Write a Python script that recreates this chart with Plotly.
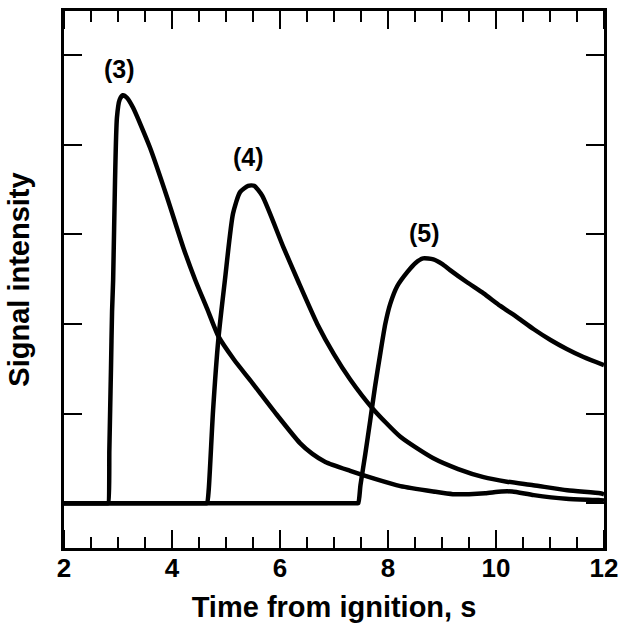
import plotly.graph_objects as go

# Curve (3)
t3 = [2.0, 2.80, 2.82, 2.84, 2.87, 2.89, 2.91, 2.945, 2.98, 3.03, 3.09, 3.17, 3.28, 3.59, 3.91,
      4.21, 4.43, 4.65, 4.86, 5.15, 5.45, 5.91, 6.37, 6.6, 6.84, 7.30, 7.76, 8.23, 8.84, 9.2,
      9.5, 9.8, 10.1, 10.3, 10.7, 11.3, 11.9, 12.0]
v3 = [0, 0, 0, 0.6, 1.5, 2.14, 2.49, 3.6, 4.3, 4.5, 4.55, 4.52, 4.41, 3.97, 3.41,
      2.85, 2.49, 2.17, 1.86, 1.60, 1.37, 1.01, 0.67, 0.55, 0.46, 0.36, 0.27, 0.19, 0.13, 0.10,
      0.10, 0.11, 0.13, 0.13, 0.09, 0.05, 0.035, 0.03]

# Curve (4)
t4 = [2.0, 4.62, 4.65, 4.68, 4.76, 4.86, 4.98, 5.13, 5.26, 5.41, 5.52, 5.67, 6.06, 6.34, 6.69,
      7.0, 7.30, 7.71, 8.23, 8.84, 9.3, 9.77, 10.2, 10.69, 11.32, 11.93, 12.0]
v4 = [0, 0, 0, 0.15, 1.03, 1.84, 2.49, 3.23, 3.47, 3.54, 3.54, 3.43, 2.86, 2.47, 2.00,
      1.66, 1.38, 1.06, 0.74, 0.50, 0.38, 0.29, 0.24, 0.20, 0.145, 0.11, 0.10]

# Curve (5)
t5 = [2.0, 7.42, 7.45, 7.49, 7.58, 7.67, 7.76, 7.86, 7.95, 8.04, 8.17, 8.36, 8.51, 8.65, 8.84,
      9.0, 9.15, 9.45, 9.77, 10.08, 10.40, 10.70, 11.01, 11.31, 11.62, 12.0]
v5 = [0, 0, 0, 0.2, 0.55, 0.92, 1.3, 1.68, 2.0, 2.22, 2.42, 2.58, 2.68, 2.73, 2.72,
      2.67, 2.60, 2.47, 2.34, 2.20, 2.07, 1.94, 1.82, 1.72, 1.63, 1.54]

labels = ["(3)", "(4)", "(5)"]
label_t = [3.03, 5.41, 8.67]
label_v = [4.84, 3.86, 3.01]

x_major = [2, 4, 6, 8, 10, 12]
x_minor = [2.5, 3, 3.5, 4.5, 5, 5.5, 6.5, 7, 7.5, 8.5, 9, 9.5, 10.5, 11, 11.5]
y_ticks = [0, 1, 2, 3, 4, 5]
x_range = [2, 12]
y_range = [-0.5, 5.49]

FONT = "Liberation Sans"

fig = go.Figure()
for t, v, name in [(t3, v3, labels[0]), (t4, v4, labels[1]), (t5, v5, labels[2])]:
    fig.add_trace(go.Scatter(x=t, y=v, mode="lines", name=name,
                             line=dict(color="black", width=4.5, shape="spline", smoothing=0.6),
                             showlegend=False))

for lab, lt, lv in zip(labels, label_t, label_v):
    fig.add_annotation(x=lt, y=lv, text="<b>" + lab + "</b>", showarrow=False,
                       font=dict(family=FONT, size=25, color="black"),
                       xanchor="center", yanchor="middle")

# inside tick marks on bottom and top edges, placed on the x scale
for vals, tlen in [(x_major, 18), (x_minor, 11)]:
    for v in vals:
        for anchor, sgn in [(0, 1), (1, -1)]:
            fig.add_shape(type="line", xref="x", yref="paper", ysizemode="pixel",
                          yanchor=anchor, x0=v, x1=v, y0=0, y1=sgn * tlen,
                          line=dict(color="black", width=2), layer="above")

fig.update_layout(
    width=622, height=623,
    margin=dict(l=64, r=18, t=11, b=75),
    paper_bgcolor="white", plot_bgcolor="white",
    font=dict(family=FONT, color="black"),
    xaxis=dict(
        range=x_range, tickmode="array", tickvals=x_major,
        ticktext=["<b>%d</b>" % v for v in x_major],
        showgrid=False, zeroline=False, automargin=False,
        showline=True, linecolor="black", linewidth=2.5, mirror=True,
        ticks="", ticklabelstandoff=-5,
        tickfont=dict(family=FONT, size=26, color="black"),
        title=dict(text="<b>Time from ignition, s</b>", standoff=16,
                   font=dict(family=FONT, size=29, color="black")),
    ),
    yaxis=dict(
        range=y_range, tickmode="array", tickvals=y_ticks,
        showgrid=False, zeroline=False, automargin=False,
        showline=True, linecolor="black", linewidth=2.5, mirror="ticks",
        ticks="inside", ticklen=18, tickwidth=2, tickcolor="black",
        showticklabels=False,
        title=dict(text="<b>Signal intensity</b>", standoff=24,
                   font=dict(family=FONT, size=29, color="black")),
    ),
)

fig.write_html("out.html")
